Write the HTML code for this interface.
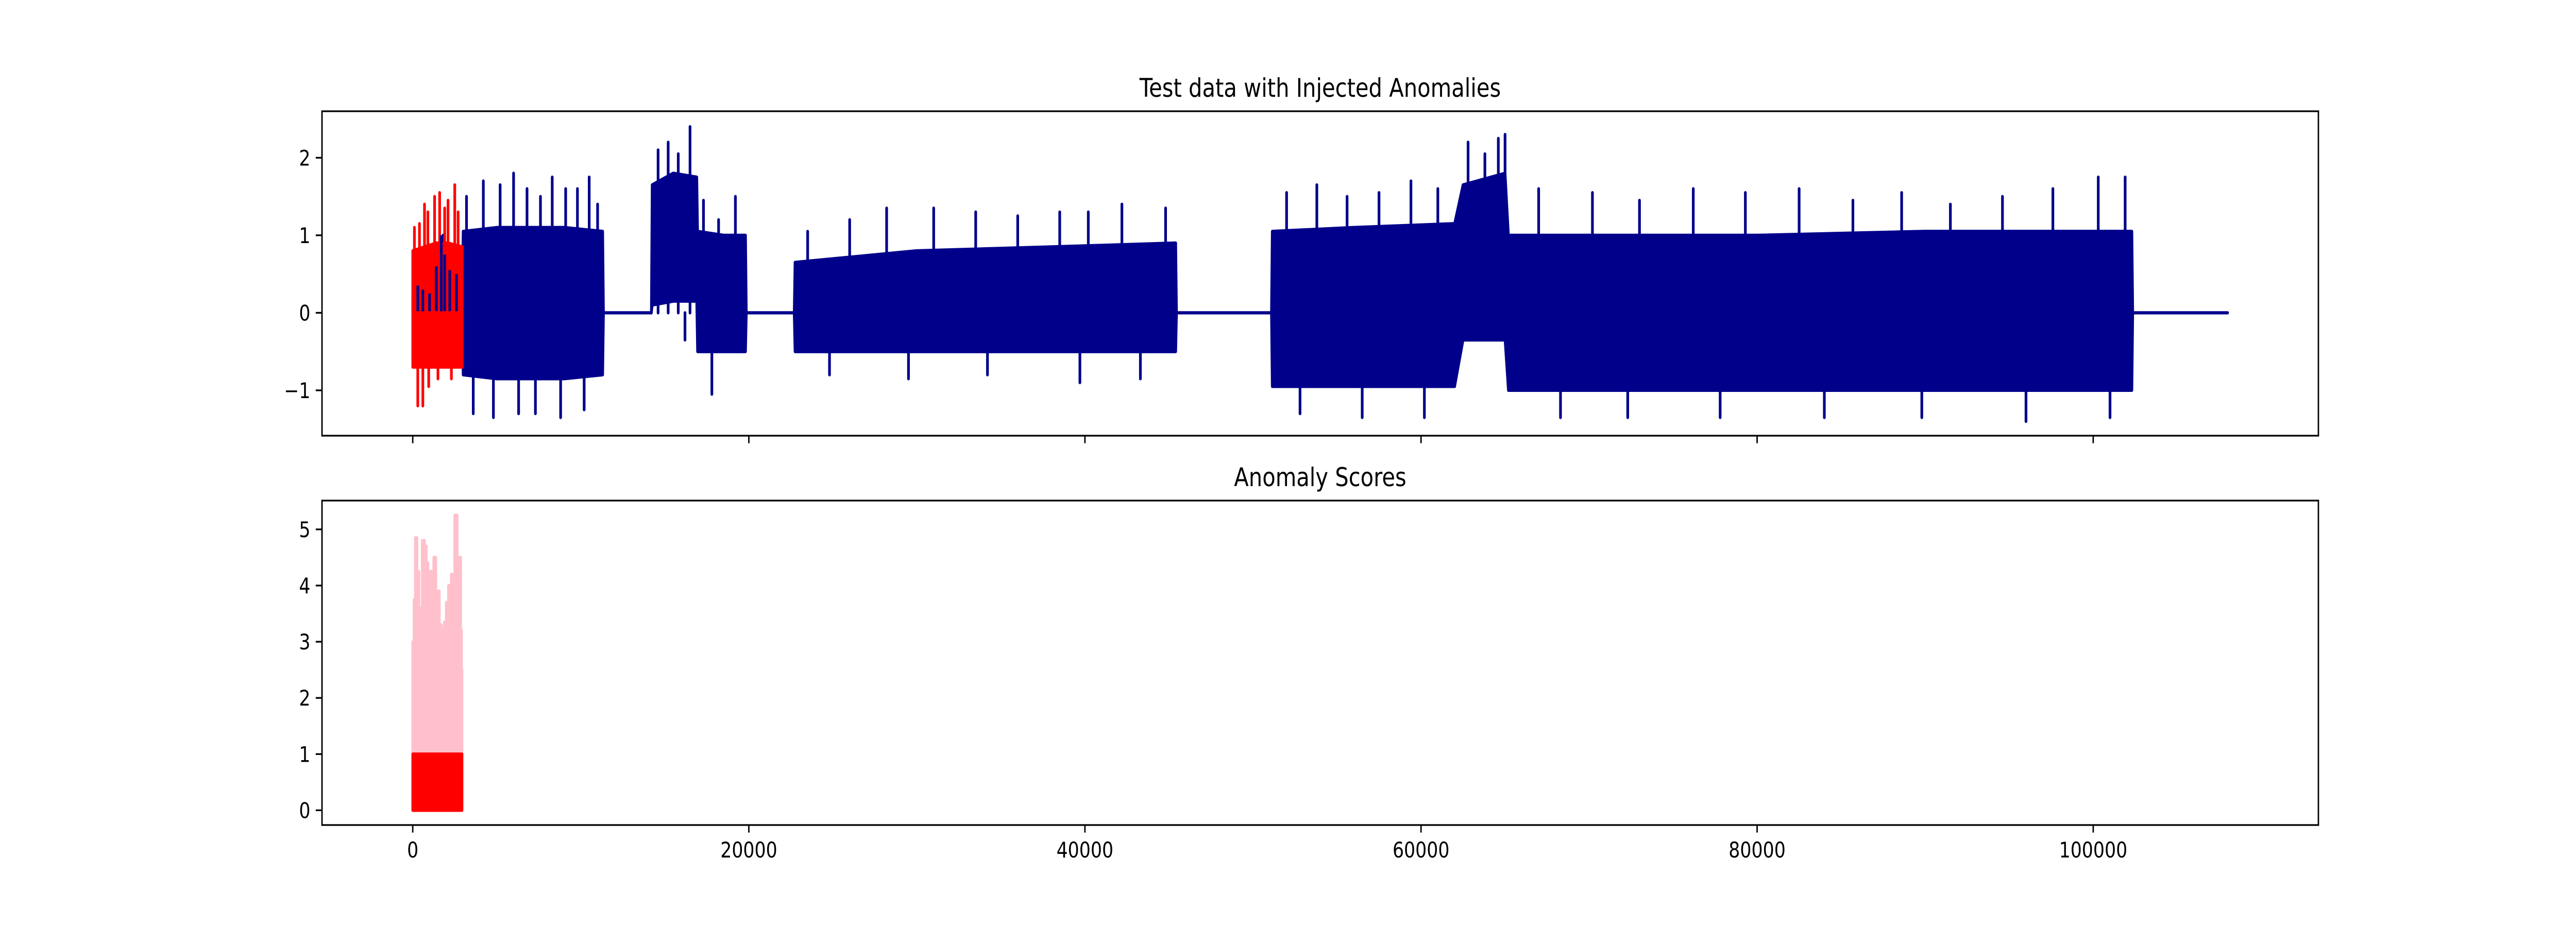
<!DOCTYPE html>
<html><head><meta charset="utf-8">
<style>
html,body{margin:0;padding:0;background:#fff;overflow:hidden;width:100%;height:100%;}
svg{display:block;width:100vw;height:100vh;font-family:"DejaVu Sans","Liberation Sans",sans-serif;}
</style></head>
<body>
<svg id="fig" viewBox="0 0 6000 1800" preserveAspectRatio="none" xmlns="http://www.w3.org/2000/svg">
<rect width="6000" height="1800" fill="#fff"/>
<g id="top"></g>
<g id="bot"></g>
<text x="3075" y="188" font-size="50" text-anchor="middle">Test data with Injected Anomalies</text>
<text x="3075" y="944" font-size="50" text-anchor="middle">Anomaly Scores</text>
</svg>
<script>
// ---- data ----
const xTicks = [0, 20000, 40000, 60000, 80000, 100000];
const xTickLabels = ["0", "20000", "40000", "60000", "80000", "100000"];
const yTicksTop = [-1, 0, 1, 2];
const yTicksBot = [0, 1, 2, 3, 4, 5];
// blue test series envelope (dense core)
const blueX  = [0,1000,1500,2500,2950,3000,5000,7000,9000,11300,11350,14200,14250,15500,16900,16950,18500,19800,19850,22700,22750,30000,38000,45400,45450,51100,51150,56000,62000,62500,65000,65200,70000,80000,90000,102300,102350,108000];
const blueHi = [0.2,0.3,0.55,0.5,0.4,1.05,1.1,1.1,1.1,1.05,0,0,1.65,1.8,1.75,1.05,1.0,1.0,0,0,0.65,0.8,0.85,0.9,0,0,1.05,1.1,1.15,1.65,1.8,1.0,1.0,1.0,1.05,1.05,0,0];
const blueLo = [0.02,0.02,0.05,0.05,0.05,-0.8,-0.85,-0.85,-0.85,-0.8,0,0,0.1,0.15,0.15,-0.5,-0.5,-0.5,0,0,-0.5,-0.5,-0.5,-0.5,0,0,-0.95,-0.95,-0.95,-0.35,-0.35,-1.0,-1.0,-1.0,-1.0,-1.0,0,0];
// blue spikes (x, value)
const blueSpikeX = [1800,3200,4200,5200,6000,6800,7600,8300,9100,9800,10500,11000,3600,4800,6300,7300,8800,10200,14600,15200,15800,16500,16200,17300,18200,19200,17800,23500,26000,28200,31000,33500,36000,38500,40200,42200,44800,24800,29500,34200,39700,43300,52000,53800,55600,57500,59400,61000,62800,63800,64600,65000,52800,56500,60200,67000,70200,73000,76200,79300,82500,85700,88600,91500,94600,97600,100300,101900,68300,72300,77800,84000,89800,96000,101000];
const blueSpikeV = [1.0,1.5,1.7,1.65,1.8,1.6,1.5,1.75,1.6,1.6,1.75,1.4,-1.3,-1.35,-1.3,-1.3,-1.35,-1.25,2.1,2.2,2.05,2.4,-0.35,1.45,1.2,1.5,-1.05,1.05,1.2,1.35,1.35,1.3,1.25,1.3,1.3,1.4,1.35,-0.8,-0.85,-0.8,-0.9,-0.85,1.55,1.65,1.5,1.55,1.7,1.6,2.2,2.05,2.25,2.3,-1.3,-1.35,-1.35,1.6,1.55,1.45,1.6,1.55,1.6,1.45,1.55,1.4,1.5,1.6,1.75,1.75,-1.35,-1.35,-1.35,-1.35,-1.35,-1.4,-1.35];
// red injected anomaly series
const redX  = [0,700,1400,2100,2950];
const redHi = [0.8,0.85,0.9,0.9,0.85];
const redLo = [-0.7,-0.7,-0.7,-0.7,-0.7];
const redSpikeX = [100,400,700,900,1300,1600,1900,2100,2500,2700,300,600,950,1500,2300];
const redSpikeV = [1.1,1.15,1.4,1.3,1.5,1.55,1.35,1.45,1.65,1.3,-1.2,-1.2,-0.95,-0.85,-0.85];
// anomaly scores
const scoreX = [0,80,160,250,370,500,570,700,800,900,980,1150,1250,1370,1470,1580,1700,1800,1880,2000,2130,2290,2410,2500,2640,2750,2850,2900,2930];
const scoreV = [3.0,3.75,4.85,4.25,3.6,3.4,4.8,4.7,4.4,3.4,4.25,3.2,4.5,3.2,3.9,3.3,3.1,3.2,3.35,3.7,4.0,4.2,3.75,5.25,3.9,4.5,3.2,2.5,0];
const labelX = [0, 2930];
const labelV = [1, 1];

// ---- axes ----
const L=750, R=5400, TT=216, TB=846, BT=972, BB=1602;
const XMIN=-5400, XMAX=113400;
const sx = x => L + (x - XMIN) / (XMAX - XMIN) * (R - L);
const syT = y => TB - (y + 1.585) / 4.185 * (TB - TT);
const syB = y => BB - (y + 0.2625) / 5.775 * (BB - BT);
const NS="http://www.w3.org/2000/svg";
function mk(tag, attrs, parent){const e=document.createElementNS(NS,tag);for(const k in attrs)e.setAttribute(k,attrs[k]);parent.appendChild(e);return e;}
const gT=document.getElementById('top'), gB=document.getElementById('bot');

function envelope(g, xs, hi, lo, sy, color, name){
  let d='M'+xs.map((x,i)=>sx(x).toFixed(1)+','+sy(hi[i]).toFixed(1)).join(' L');
  for(let i=xs.length-1;i>=0;i--) d+=' L'+sx(xs[i]).toFixed(1)+','+sy(lo[i]).toFixed(1);
  d+='Z';
  const p=mk('path',{d:d,fill:color,stroke:color,'stroke-width':6.25,'stroke-linejoin':'round'},g);
  
  
}
function spikes(g, xs, vs, sy, color, name){
  xs.forEach((x,i)=>{
    const l=mk('line',{x1:sx(x),x2:sx(x),y1:sy(0),y2:sy(vs[i]),stroke:color,'stroke-width':6.25,'stroke-linecap':'round'},g);
    
    
  });
}

envelope(gT, blueX, blueHi, blueLo, syT, '#00008b', 'test-data-line');
spikes(gT, blueSpikeX, blueSpikeV, syT, '#00008b', 'test-data-spike');
envelope(gT, redX, redHi, redLo, syT, '#ff0000', 'injected-anomaly-line');
spikes(gT, redSpikeX, redSpikeV, syT, '#ff0000', 'injected-anomaly-spike');
const bwX=[300,600,1000,1400,1700,1900,2200,2600];
const bwV=[0.35,0.3,0.25,0.6,1.0,0.75,0.55,0.5];
bwX.forEach((x,i)=>{const l=mk('line',{x1:sx(x),x2:sx(x),y1:syT(0.02),y2:syT(bwV[i]),stroke:'#00008b','stroke-width':6.25},gT);
  
  });

{
  let d='M'+sx(scoreX[0])+','+syB(0);
  scoreX.forEach((x,i)=>{ d+=' L'+sx(x).toFixed(1)+','+syB(scoreV[i]).toFixed(1); if(i<scoreX.length-1) d+=' L'+sx(scoreX[i+1]).toFixed(1)+','+syB(scoreV[i]).toFixed(1);});
  d+=' L'+sx(scoreX[scoreX.length-1])+','+syB(0)+'Z';
  const p=mk('path',{d:d,fill:'#ffc0cb',stroke:'#ffc0cb','stroke-width':6.25,'stroke-linejoin':'round'},gB);
  
  
  const r=mk('rect',{x:sx(labelX[0]),y:syB(labelV[0]),width:sx(labelX[1])-sx(labelX[0]),height:syB(0)-syB(labelV[0]),fill:'#ff0000',stroke:'#ff0000','stroke-width':6.25,'stroke-linejoin':'round'},gB);
  
  
}

function axes(g, top, bot, yt, sy, showX, pfx){
  const f=mk('rect',{x:L,y:top,width:R-L,height:bot-top,fill:'none',stroke:'#000','stroke-width':3.3},g);
  
  
  xTicks.forEach((t,i)=>{
    const l=mk('line',{x1:sx(t),x2:sx(t),y1:bot,y2:bot+14.6,stroke:'#000','stroke-width':3.3},g);
    
    
    if(showX){
      const tx=mk('text',{x:sx(t),y:bot+63,'font-size':41.7,'text-anchor':'middle'},g);
      tx.textContent=xTickLabels[i];
      
      
    }
  });
  yt.forEach(t=>{
    const l=mk('line',{x1:L-14.6,x2:L,y1:sy(t),y2:sy(t),stroke:'#000','stroke-width':3.3},g);
    
    
    const tx=mk('text',{x:L-27,y:sy(t)+15,'font-size':41.7,'text-anchor':'end'},g);
    tx.textContent=(t<0?'\u2212'+Math.abs(t):String(t));
    
    
  });
}
axes(gT, TT, TB, yTicksTop, syT, false, 'top');
axes(gB, BT, BB, yTicksBot, syB, true, 'bottom');
</script>
</body></html>
